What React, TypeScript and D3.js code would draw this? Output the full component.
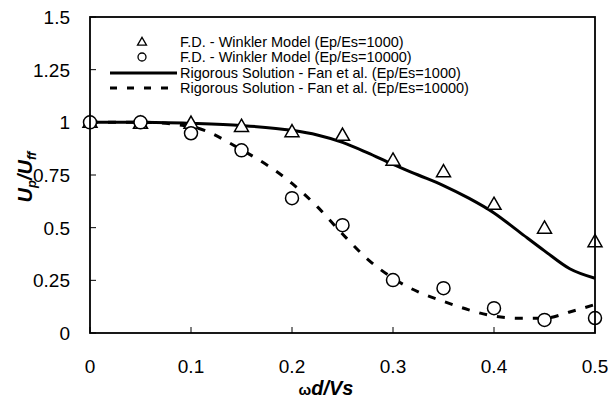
import React from "react";
import * as d3 from "d3";

const xTicks = [0, 0.1, 0.2, 0.3, 0.4, 0.5];
const yTicks = [0, 0.25, 0.5, 0.75, 1, 1.25, 1.5];
const yTickLabels = ["0", "0.25", "0.5", "0.75", "1", "1.25", "1.5"];

const fdX = [0, 0.05, 0.1, 0.15, 0.2, 0.25, 0.3, 0.35, 0.4, 0.45, 0.5];
const fd1000 = [1.0, 0.995, 0.995, 0.98, 0.955, 0.938, 0.82, 0.765, 0.61, 0.497, 0.433];
const fd10000 = [1.0, 1.0, 0.948, 0.867, 0.64, 0.512, 0.251, 0.213, 0.118, 0.062, 0.071];

const fanX = [0, 0.05, 0.1, 0.15, 0.2, 0.225, 0.25, 0.275, 0.3, 0.325, 0.35, 0.375, 0.4, 0.425, 0.45, 0.475, 0.5];
const fan1000 = [1.0, 1.0, 0.995, 0.985, 0.962, 0.94, 0.905, 0.855, 0.8, 0.75, 0.7, 0.64, 0.57, 0.48, 0.39, 0.305, 0.26];
const fan10000 = [1.0, 1.0, 0.98, 0.87, 0.71, 0.6, 0.47, 0.35, 0.26, 0.195, 0.15, 0.11, 0.08, 0.07, 0.07, 0.1, 0.135];

const legendLabels = [
  "F.D. - Winkler Model (Ep/Es=1000)",
  "F.D. - Winkler Model (Ep/Es=10000)",
  "Rigorous Solution - Fan et al. (Ep/Es=1000)",
  "Rigorous Solution - Fan et al. (Ep/Es=10000)",
];

const W = 611;
const H = 402;
const L = 90, R = 595, T = 17, B = 333;
const FONT = "Liberation Sans, Arial, sans-serif";

export default function App() {
  const x = d3.scaleLinear().domain([0, 0.5]).range([L, R]);
  const y = d3.scaleLinear().domain([0, 1.5]).range([B, T]);
  const line = d3.line<[number, number]>()
    .x((d) => x(d[0]))
    .y((d) => y(d[1]))
    .curve(d3.curveMonotoneX);
  const solid = line(fanX.map((v, i) => [v, fan1000[i]] as [number, number])) || "";
  const dashed = line(fanX.map((v, i) => [v, fan10000[i]] as [number, number])) || "";
  const tri = (cx: number, cy: number, s: number) => {
    const h = s * 0.87;
    return `M${cx},${cy - h * 0.6}L${cx + s / 2},${cy + h * 0.4}L${cx - s / 2},${cy + h * 0.4}Z`;
  };

  const legX = 110, legX2 = 177, legTextX = 180;
  const legRows = [42, 57, 73, 88];

  return (
    <svg width={W} height={H} style={{ position: "absolute", left: 0, top: 0, background: "#fff" }} fontFamily={FONT}>
      <rect x={0} y={0} width={W} height={H} fill="#fff" />
      {/* ticks */}
      {yTicks.map((t) => (
        <line key={"yt" + t} x1={L} x2={L + 6} y1={y(t)} y2={y(t)} stroke="#000" strokeWidth={1} />
      ))}
      {xTicks.map((t) => (
        <line key={"xt" + t} x1={x(t)} x2={x(t)} y1={B} y2={B - 6} stroke="#000" strokeWidth={1} />
      ))}
      {/* curves */}
      <path d={solid} fill="none" stroke="#000" strokeWidth={3} />
      <path d={dashed} fill="none" stroke="#000" strokeWidth={3} strokeDasharray="8,10" />
      {/* markers */}
      {fdX.map((v, i) => (
        <path key={"tr" + i} d={tri(x(v), y(fd1000[i]), 14)} fill="#fff" stroke="#000" strokeWidth={1.5} />
      ))}
      {fdX.map((v, i) => (
        <circle key={"c" + i} cx={x(v)} cy={y(fd10000[i])} r={6.5} fill="#fff" stroke="#000" strokeWidth={1.5} />
      ))}
      {/* frame */}
      <rect x={L} y={T} width={R - L} height={B - T} fill="none" stroke="#000" strokeWidth={1.8} />
      {/* legend */}
      <path d={tri(142, legRows[0], 9)} fill="#fff" stroke="#000" strokeWidth={1.3} />
      <circle cx={142} cy={legRows[1]} r={4} fill="#fff" stroke="#000" strokeWidth={1.3} />
      <line x1={legX} x2={legX2} y1={legRows[2]} y2={legRows[2]} stroke="#000" strokeWidth={3} />
      <line x1={legX} x2={legX2} y1={legRows[3]} y2={legRows[3]} stroke="#000" strokeWidth={3} strokeDasharray="7,10" />
      {legendLabels.map((s, i) => (
        <text key={"lg" + i} x={legTextX} y={legRows[i] + 5} fontSize={14.5} fill="#000">{s}</text>
      ))}
      {/* tick labels */}
      {yTicks.map((t, i) => (
        <text key={"yl" + t} x={70} y={y(t) + 7} fontSize={19} textAnchor="end" fill="#000">{yTickLabels[i]}</text>
      ))}
      {xTicks.map((t) => (
        <text key={"xl" + t} x={x(t)} y={373} fontSize={19} textAnchor="middle" fill="#000">{String(t)}</text>
      ))}
      {/* axis titles */}
      <text x={326} y={395} fontSize={20} textAnchor="middle" fill="#000">
        <tspan fontSize={15} fontWeight="bold">ω</tspan>
        <tspan fontWeight="bold" fontStyle="italic">d/Vs</tspan>
      </text>
      <text transform="translate(32,177) rotate(-90)" textAnchor="middle" fontSize={20} fontWeight="bold" fontStyle="italic" fill="#000">
        <tspan>U</tspan>
        <tspan fontSize={13} dy={4}>p</tspan>
        <tspan dy={-4}>/U</tspan>
        <tspan fontSize={13} dy={4}>ff</tspan>
      </text>
    </svg>
  );
}
